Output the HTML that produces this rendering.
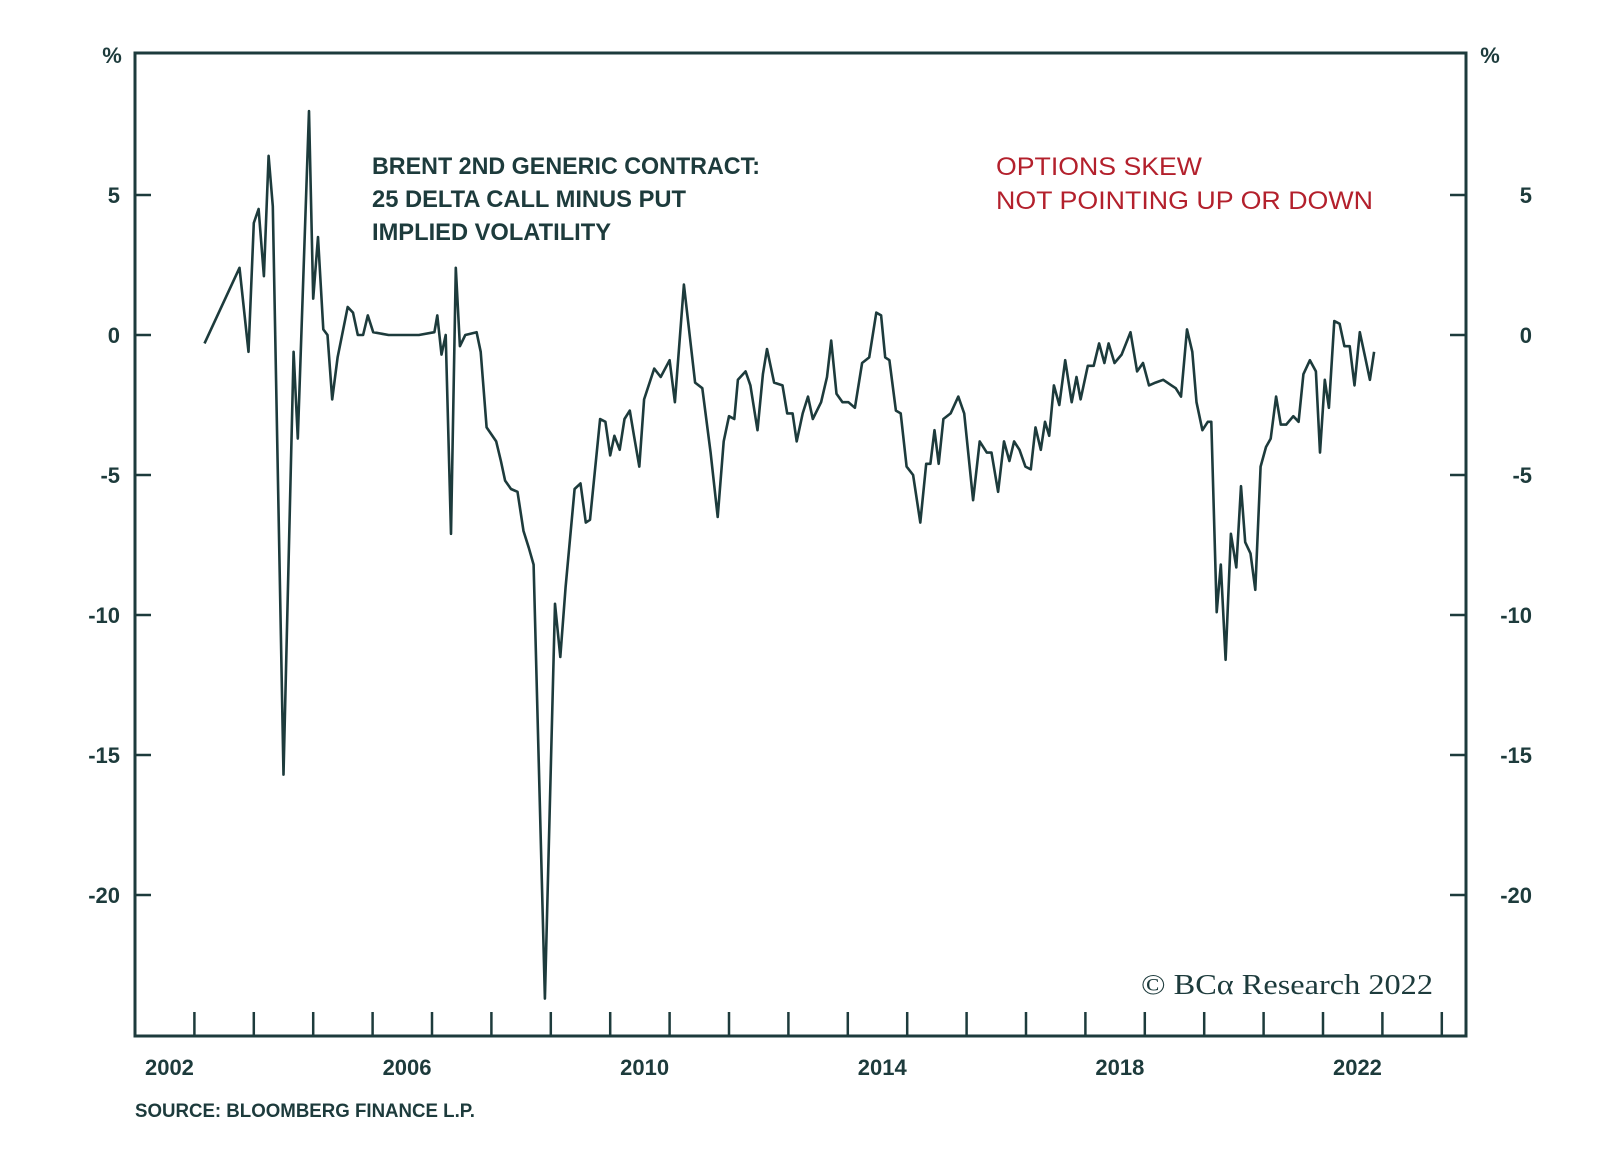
<!DOCTYPE html>
<html><head><meta charset="utf-8"><style>
html,body{margin:0;padding:0;background:#fff;}
svg{display:block;}
text{font-family:"Liberation Sans",sans-serif;}
</style></head><body>
<svg id="chart" width="1600" height="1168" viewBox="0 0 1600 1168" xmlns="http://www.w3.org/2000/svg">
<g id="axes"></g>
<path id="series" fill="none" stroke="#1d3b3c" stroke-width="2.6" stroke-linejoin="round"/>
<text x="112" y="63" font-size="22" font-weight="bold" fill="#1d3b3c" text-anchor="middle">%</text>
<text x="1490" y="63" font-size="22" font-weight="bold" fill="#1d3b3c" text-anchor="middle">%</text>
<g font-size="24" font-weight="bold" fill="#1d3b3c">
<text x="372" y="174" textLength="388" lengthAdjust="spacingAndGlyphs">BRENT 2ND GENERIC CONTRACT:</text>
<text x="372" y="207" textLength="314" lengthAdjust="spacingAndGlyphs">25 DELTA CALL MINUS PUT</text>
<text x="372" y="240" textLength="239" lengthAdjust="spacingAndGlyphs">IMPLIED VOLATILITY</text>
</g>
<g font-size="25" fill="#b3202c">
<text x="996" y="175" textLength="206" lengthAdjust="spacingAndGlyphs">OPTIONS SKEW</text>
<text x="996" y="209" textLength="377" lengthAdjust="spacingAndGlyphs">NOT POINTING UP OR DOWN</text>
</g>
<text x="1141" y="994" style="font-family:'Liberation Serif',serif" font-size="29" fill="#1d3b3c" textLength="292" lengthAdjust="spacingAndGlyphs">© BCα Research 2022</text>
<text x="135" y="1117" font-size="19" font-weight="bold" fill="#1d3b3c" textLength="340" lengthAdjust="spacingAndGlyphs">SOURCE: BLOOMBERG FINANCE L.P.</text>
</svg>
<script>
const years = [2003.17,2003.76,2003.91,2004.00,2004.08,2004.17,2004.25,2004.32,2004.50,2004.67,2004.74,2004.93,2005.00,2005.08,2005.17,2005.24,2005.32,2005.41,2005.58,2005.67,2005.75,2005.84,2005.92,2006.01,2006.27,2006.61,2006.78,2007.04,2007.09,2007.16,2007.23,2007.32,2007.40,2007.47,2007.56,2007.75,2007.82,2007.92,2008.08,2008.16,2008.23,2008.33,2008.44,2008.54,2008.63,2008.71,2008.90,2009.07,2009.16,2009.25,2009.40,2009.50,2009.59,2009.66,2009.83,2009.92,2010.00,2010.07,2010.16,2010.24,2010.33,2010.40,2010.49,2010.57,2010.74,2010.85,2011.00,2011.09,2011.24,2011.43,2011.55,2011.69,2011.81,2011.91,2012.00,2012.09,2012.15,2012.28,2012.36,2012.48,2012.57,2012.64,2012.76,2012.90,2012.98,2013.07,2013.14,2013.24,2013.33,2013.41,2013.55,2013.65,2013.72,2013.81,2013.91,2014.01,2014.12,2014.24,2014.36,2014.48,2014.56,2014.63,2014.70,2014.81,2014.89,2014.99,2015.10,2015.22,2015.32,2015.39,2015.46,2015.53,2015.61,2015.73,2015.86,2015.96,2016.11,2016.22,2016.34,2016.42,2016.53,2016.63,2016.72,2016.80,2016.89,2016.99,2017.08,2017.16,2017.25,2017.32,2017.39,2017.47,2017.56,2017.66,2017.77,2017.85,2017.92,2018.04,2018.14,2018.23,2018.32,2018.39,2018.49,2018.61,2018.76,2018.87,2018.97,2019.07,2019.18,2019.31,2019.45,2019.52,2019.61,2019.71,2019.80,2019.87,2019.97,2020.06,2020.12,2020.21,2020.28,2020.36,2020.45,2020.54,2020.62,2020.69,2020.78,2020.86,2020.95,2021.04,2021.12,2021.21,2021.29,2021.38,2021.50,2021.59,2021.67,2021.78,2021.88,2021.95,2022.03,2022.10,2022.19,2022.28,2022.36,2022.45,2022.53,2022.62,2022.71,2022.79,2022.86];
const values = [-0.3,2.4,-0.6,4.0,4.5,2.1,6.4,4.6,-15.7,-0.6,-3.7,8.0,1.3,3.5,0.2,0,-2.3,-0.8,1.0,0.8,0,0,0.7,0.1,0,0,0,0.1,0.7,-0.7,0,-7.1,2.4,-0.4,0,0.1,-0.6,-3.3,-3.8,-4.5,-5.2,-5.5,-5.6,-7.0,-7.6,-8.2,-23.7,-9.6,-11.5,-9.0,-5.5,-5.3,-6.7,-6.6,-3.0,-3.1,-4.3,-3.6,-4.1,-3.0,-2.7,-3.6,-4.7,-2.3,-1.2,-1.5,-0.9,-2.4,1.8,-1.7,-1.9,-4.2,-6.5,-3.8,-2.9,-3.0,-1.6,-1.3,-1.8,-3.4,-1.4,-0.5,-1.7,-1.8,-2.8,-2.8,-3.8,-2.8,-2.2,-3.0,-2.4,-1.5,-0.2,-2.1,-2.4,-2.4,-2.6,-1.0,-0.8,0.8,0.7,-0.8,-0.9,-2.7,-2.8,-4.7,-5.0,-6.7,-4.6,-4.6,-3.4,-4.6,-3.0,-2.8,-2.2,-2.8,-5.9,-3.8,-4.2,-4.2,-5.6,-3.8,-4.5,-3.8,-4.1,-4.7,-4.8,-3.3,-4.1,-3.1,-3.6,-1.8,-2.5,-0.9,-2.4,-1.5,-2.3,-1.1,-1.1,-0.3,-1.0,-0.3,-1.0,-0.7,0.1,-1.3,-1.0,-1.8,-1.7,-1.6,-1.8,-1.9,-2.2,0.2,-0.6,-2.4,-3.4,-3.1,-3.1,-9.9,-8.2,-11.6,-7.1,-8.3,-5.4,-7.4,-7.8,-9.1,-4.7,-4.0,-3.7,-2.2,-3.2,-3.2,-2.9,-3.1,-1.4,-0.9,-1.3,-4.2,-1.6,-2.6,0.5,0.4,-0.4,-0.4,-1.8,0.1,-0.8,-1.6,-0.6];
const yTicks = [5,0,-5,-10,-15,-20];
const yTickLabels = ["5","0","-5","-10","-15","-20"];
const xLabelYears = [2002,2006,2010,2014,2018,2022];
const xLabels = ["2002","2006","2010","2014","2018","2022"];

const L=135,R=1466,T=53,B=1036;
const X0=2002, PXY=59.4;
const xs=y=>L+(y-X0)*PXY;
const ys=v=>335-28*v;
const NS='http://www.w3.org/2000/svg';
const ax=document.getElementById('axes');
const C='#1d3b3c';
function mk(tag,attrs){const e=document.createElementNS(NS,tag);for(const k in attrs)e.setAttribute(k,attrs[k]);return e;}

const frame=mk('rect',{x:L,y:T,width:R-L,height:B-T,fill:'none',stroke:C,'stroke-width':3});


ax.appendChild(frame);

yTicks.forEach((v,i)=>{
  const y=ys(v);
  const t1=mk('line',{x1:L,x2:L+16,y1:y,y2:y,stroke:C,'stroke-width':2.5});
  
  
  ax.appendChild(t1);
  const t2=mk('line',{x1:R-16,x2:R,y1:y,y2:y,stroke:C,'stroke-width':2.5});
  
  
  ax.appendChild(t2);
  const l1=mk('text',{x:120,y:y+8,'font-size':22,'font-weight':'bold',fill:C,'text-anchor':'end'});
  
  
  l1.textContent=yTickLabels[i];ax.appendChild(l1);
  const l2=mk('text',{x:1532,y:y+8,'font-size':22,'font-weight':'bold',fill:C,'text-anchor':'end'});
  
  
  l2.textContent=yTickLabels[i];ax.appendChild(l2);
});
for(let yr=2003;yr<=2024;yr++){
  const x=xs(yr);
  const t=mk('line',{x1:x,x2:x,y1:B-24,y2:B,stroke:C,'stroke-width':2.5});
  
  
  ax.appendChild(t);
}
xLabelYears.forEach((yr,i)=>{
  const l=mk('text',{x:xs(yr+0.58),y:1075,'font-size':22,'font-weight':'bold',fill:C,'text-anchor':'middle'});
  
  
  l.textContent=xLabels[i];ax.appendChild(l);
});
document.getElementById('series').setAttribute('d',years.map((yr,i)=>(i?'L':'M')+xs(yr).toFixed(1)+' '+ys(values[i]).toFixed(1)).join(' '));
</script>
</body></html>
